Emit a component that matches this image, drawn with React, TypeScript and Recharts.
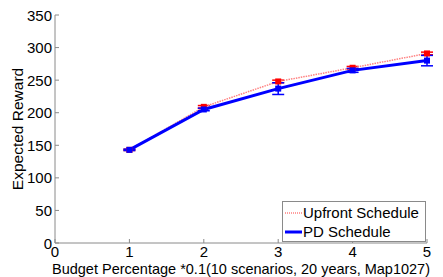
import React from 'react';
import { ComposedChart, Line, XAxis, YAxis, ErrorBar } from 'recharts';

const budget = [1, 2, 3, 4, 5];
const upfront = [143, 209, 248, 269, 291];
const upfrontErr = [1, 2, 2, 2, 2];
const pd = [143, 205, 237, 265, 280];
const pdErr = [1, 2, 9, 3, 8];
const xTicks = [0, 1, 2, 3, 4, 5];
const yTicks = [0, 50, 100, 150, 200, 250, 300, 350];
const seriesNames = ['Upfront Schedule', 'PD Schedule'];

const data = budget.map((b, i) => ({
  x: b,
  upfront: upfront[i],
  upfrontErr: upfrontErr[i],
  pd: pd[i],
  pdErr: pdErr[i],
}));

const FONT = 'Liberation Sans, Arial, sans-serif';
const FRAME = '#8a8a8a';
const TICK_FS = 15;
const XLABEL_FS = 14.5;
const YLABEL_FS = 15.5;
const LEGEND_FS = 15;

const BottomTick = (props: any) => {
  const { x, y, payload } = props;
  const ay = y - 2;
  return (
    <g>
      <line x1={x} y1={ay} x2={x} y2={ay - 4} stroke={FRAME} strokeWidth={1} />
      <text x={x} y={y + 12} textAnchor="middle" fontSize={TICK_FS} fontFamily={FONT} fill="#000">
        {payload.value}
      </text>
    </g>
  );
};

const TopTick = (props: any) => {
  const { x, y } = props;
  const ay = y + 2;
  return <line x1={x} y1={ay} x2={x} y2={ay + 4} stroke={FRAME} strokeWidth={1} />;
};

const LeftTick = (props: any) => {
  const { x, y, payload } = props;
  const ax = x + 2;
  return (
    <g>
      <line x1={ax} y1={y} x2={ax + 4} y2={y} stroke={FRAME} strokeWidth={1} />
      <text x={x - 1} y={y + 5.5} textAnchor="end" fontSize={TICK_FS} fontFamily={FONT} fill="#000">
        {payload.value}
      </text>
    </g>
  );
};

const RightTick = (props: any) => {
  const { x, y } = props;
  const ax = x - 2;
  return <line x1={ax} y1={y} x2={ax - 4} y2={y} stroke={FRAME} strokeWidth={1} />;
};

const RedSquare = (props: any) => {
  const { cx, cy } = props;
  if (cx == null || cy == null) return null;
  return <rect x={cx - 3} y={cy - 3} width={6} height={6} fill="#ff0000" />;
};
const BlueSquare = (props: any) => {
  const { cx, cy } = props;
  if (cx == null || cy == null) return null;
  return <rect x={cx - 3} y={cy - 3} width={6} height={6} fill="#0000ff" />;
};

const LegendBox = () => (
  <div
    style={{
      position: 'absolute',
      left: 282,
      top: 201,
      width: 142,
      height: 39,
      border: `1px solid ${FRAME}`,
      background: '#fff',
      fontFamily: FONT,
      fontSize: LEGEND_FS,
      color: '#000',
      boxSizing: 'content-box',
      whiteSpace: 'nowrap',
    }}
  >
    <div style={{ display: 'flex', alignItems: 'center', height: 19, marginTop: 1 }}>
      <svg width={18} height={10} style={{ marginLeft: 2 }}>
        <line x1={0} y1={5} x2={17} y2={5} stroke="#ff8080" strokeWidth={1.5} strokeDasharray="1 1" />
      </svg>
      <span>{seriesNames[0]}</span>
    </div>
    <div style={{ display: 'flex', alignItems: 'center', height: 19 }}>
      <svg width={18} height={10} style={{ marginLeft: 2 }}>
        <line x1={0} y1={5} x2={17} y2={5} stroke="#0000ff" strokeWidth={3} />
      </svg>
      <span>{seriesNames[1]}</span>
    </div>
  </div>
);

export default function App() {
  return (
    <div style={{ position: 'absolute', left: 0, top: 0, width: 443, height: 277, background: '#fff' }}>
      <ComposedChart
        width={443}
        height={277}
        data={data}
        margin={{ top: 15, right: 16, bottom: 0, left: 0 }}
      >
        <XAxis
          xAxisId="b"
          dataKey="x"
          type="number"
          domain={[0, 5]}
          ticks={xTicks}
          tickLine={false}
          tickSize={0}
          tickMargin={2}
          height={34}
          stroke={FRAME}
          tick={<BottomTick />}
          interval={0}
          label={{
            value: 'Budget Percentage *0.1(10 scenarios, 20 years, Map1027)',
            position: 'insideBottom',
            offset: 3,
            fontSize: XLABEL_FS,
            fontFamily: FONT,
            fill: '#000',
          }}
        />
        <XAxis
          xAxisId="t"
          dataKey="x"
          type="number"
          orientation="top"
          domain={[0, 5]}
          ticks={xTicks}
          tickLine={false}
          tickSize={0}
          tickMargin={2}
          height={0}
          stroke={FRAME}
          tick={<TopTick />}
          interval={0}
        />
        <YAxis
          yAxisId="l"
          type="number"
          domain={[0, 350]}
          ticks={yTicks}
          tickLine={false}
          tickSize={0}
          tickMargin={2}
          width={55}
          stroke={FRAME}
          tick={<LeftTick />}
          interval={0}
          label={{
            value: 'Expected Reward',
            angle: -90,
            position: 'insideLeft',
            offset: 17,
            fontSize: YLABEL_FS,
            fontFamily: FONT,
            fill: '#000',
            style: { textAnchor: 'middle' },
          }}
        />
        <YAxis
          yAxisId="r"
          orientation="right"
          type="number"
          domain={[0, 350]}
          ticks={yTicks}
          tickLine={false}
          tickSize={0}
          tickMargin={2}
          width={0}
          stroke={FRAME}
          tick={<RightTick />}
          interval={0}
        />
        <Line
          xAxisId="b"
          yAxisId="l"
          dataKey="upfront"
          name={seriesNames[0]}
          stroke="#ff8080"
          strokeWidth={1.5}
          strokeDasharray="1.5 1"
          dot={<RedSquare />}
          activeDot={false}
          isAnimationActive={false}
        >
          <ErrorBar dataKey="upfrontErr" direction="y" width={6} stroke="#ff0000" strokeWidth={1.5} />
        </Line>
        <Line
          xAxisId="b"
          yAxisId="l"
          dataKey="pd"
          name={seriesNames[1]}
          stroke="#0000ff"
          strokeWidth={3}
          dot={<BlueSquare />}
          activeDot={false}
          isAnimationActive={false}
        >
          <ErrorBar dataKey="pdErr" direction="y" width={6} stroke="#0000ff" strokeWidth={1.5} />
        </Line>
      </ComposedChart>
      <LegendBox />
    </div>
  );
}
